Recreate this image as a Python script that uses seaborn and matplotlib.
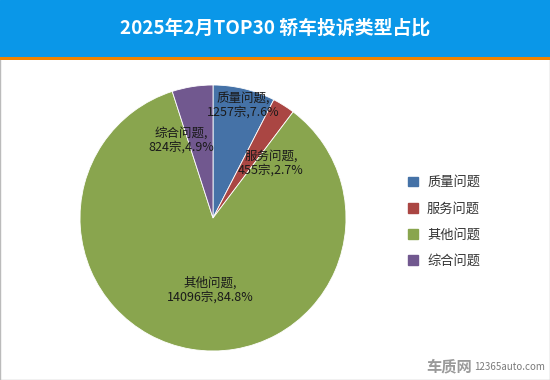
import matplotlib
matplotlib.use("Agg")
import matplotlib.pyplot as plt
import matplotlib.patches as mpatches
import seaborn as sns

sns.set_theme(style="white")
plt.rcParams['font.family'] = ['Noto Sans CJK SC', 'DejaVu Sans']

categories = ["质量问题", "服务问题", "其他问题", "综合问题"]
counts = [1257, 455, 14096, 824]
percents = ["7.6%", "2.7%", "84.8%", "4.9%"]
colors = ["#4572A7", "#AA4643", "#89A54E", "#71588F"]
title = "2025年2月TOP30 轿车投诉类型占比"

W, H = 550, 380
fig = plt.figure(figsize=(W / 100, H / 100), dpi=100)
fig.patch.set_facecolor("white")

# title band
band = fig.add_axes([0, (H - 57) / H, 1, 57 / H])
band.set_xlim(0, 1); band.set_ylim(0, 1); band.axis("off")
band.add_patch(mpatches.Rectangle((0, 0), 1, 1, color="#0A97E8", transform=band.transAxes))
band.text(0.5, 0.5, title, color="white", fontsize=13.6, fontweight="bold",
          ha="center", va="center", transform=band.transAxes)
line = fig.add_axes([0, (H - 60) / H, 1, 3 / H])
line.axis("off")
line.add_patch(mpatches.Rectangle((0, 0), 1, 1, color="#F08300", transform=line.transAxes))

# pie
cx, cy, r = 213, 218, 133
ax = fig.add_axes([(cx - r) / W, (H - cy - r) / H, 2 * r / W, 2 * r / H])
wedges, _ = ax.pie(counts, colors=colors, startangle=90, counterclock=False,
                   wedgeprops=dict(linewidth=0.6, edgecolor="white"))
ax.set_aspect("equal")
ax.set_xlim(-1, 1); ax.set_ylim(-1, 1)

label_pos = [(243, 105), (271, 163), (210, 290), (181, 140)]
for cat, cnt, pct, (px, py) in zip(categories, counts, percents, label_pos):
    ax.text((px - cx) / r, (cy - py) / r, f"{cat},\n{cnt}宗,{pct}",
            ha="center", va="center", fontsize=9, color="#1a1a1a", linespacing=1.15)

# legend
handles = [mpatches.Patch(color=c, label=l) for c, l in zip(colors, categories)]
fig.legend(handles=handles, loc="center left", bbox_to_anchor=(396 / W, 1 - 222 / H),
           frameon=False, fontsize=9.5, labelcolor="#333333", handlelength=0.75,
           handleheight=0.75, labelspacing=1.0, handletextpad=0.7)

# watermark
fig.text(472 / W, 1 - 366 / H, "车质网", color="#9a9a9a", fontsize=11, fontweight="bold",
         ha="right", va="center")
fig.text(474 / W, 1 - 367 / H, "12365auto.com", color="#7a7a7a", fontsize=7,
         ha="left", va="center")

# border
border = fig.add_axes([0, 0, 1, 1], facecolor="none")
border.set_xticks([]); border.set_yticks([])
for s in border.spines.values():
    s.set_color("#BBBBBB"); s.set_linewidth(1)
border.set_zorder(-1)

fig.savefig("out.png", dpi=100)
